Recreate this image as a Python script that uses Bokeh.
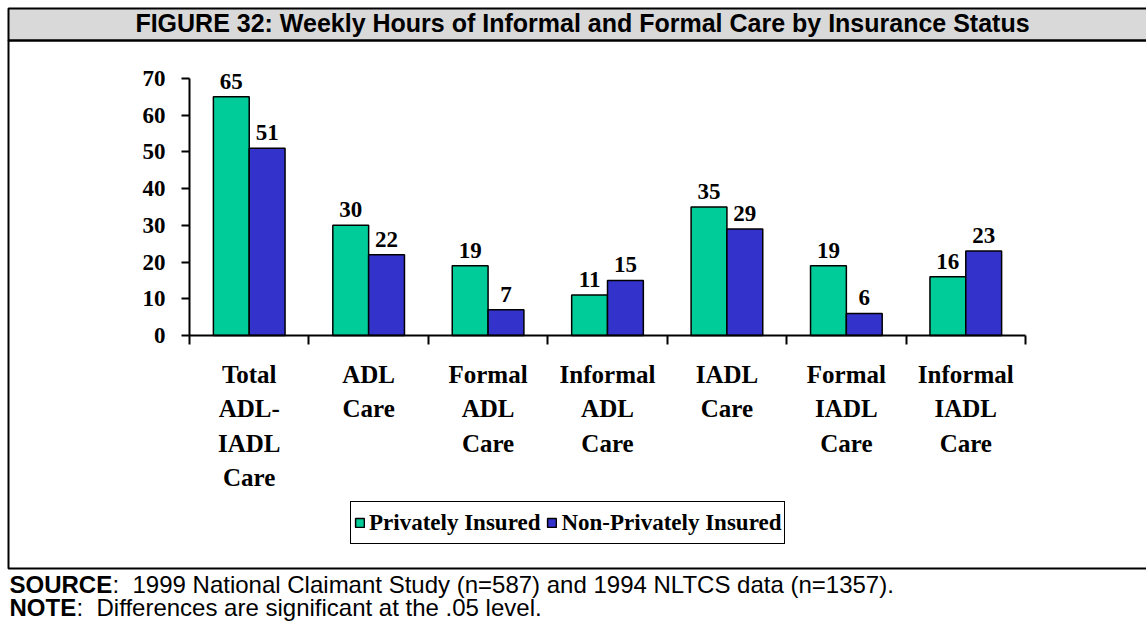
from bokeh.plotting import figure
from bokeh.models import (Range1d, FixedTicker, ColumnDataSource, Label,
                          BoxAnnotation, Legend, LegendItem)
from bokeh.transform import dodge
from bokeh.core.properties import value
from bokeh.embed import file_html
from bokeh.resources import INLINE

# ---------------- data ----------------
categories = ["Total\nADL-\nIADL\nCare", "ADL\nCare", "Formal\nADL\nCare",
              "Informal\nADL\nCare", "IADL\nCare", "Formal\nIADL\nCare",
              "Informal\nIADL\nCare"]
privately_insured = [65, 30, 19, 11, 35, 19, 16]
non_privately_insured = [51, 22, 7, 15, 29, 6, 23]
series_names = ["Privately Insured", "Non-Privately Insured"]
y_ticks = [0, 10, 20, 30, 40, 50, 60, 70]

title_text = "FIGURE 32: Weekly Hours of Informal and Formal Care by Insurance Status"
source_head = "SOURCE"
source_text = ":\u00a0\u00a01999 National Claimant Study (n=587) and 1994 NLTCS data (n=1357)."
note_head = "NOTE"
note_text = ":\u00a0\u00a0Differences are significant at the .05 level."

# ---------------- styles / layout ----------------
GREEN = "#00CC99"
BLUE = "#3333CC"
SERIF = "Liberation Serif"
SANS = "Liberation Sans"
W, H = 1146, 628
AX_L, AX_R, AX_B, AX_T = 189, 1025, 335, 78   # pixel box of the chart axes
N = len(categories)
YMAX = y_ticks[-1]
PXX = (AX_R - AX_L) / N
PXY = (AX_B - AX_T) / YMAX

def dx(px):  # page pixel -> data x
    return (px - AX_L) / PXX

def dy(py):  # page pixel -> data y
    return (AX_B - py) / PXY

centers = [i + 0.5 for i in range(N)]
source = ColumnDataSource(dict(
    x=centers,
    priv=privately_insured,
    nonpriv=non_privately_insured,
    priv_lbl=[str(v) for v in privately_insured],
    nonpriv_lbl=[str(v) for v in non_privately_insured],
))

p = figure(width=W, height=H, output_backend="svg", toolbar_location=None,
           x_range=Range1d(dx(0), dx(W)), y_range=Range1d(dy(H), dy(0)),
           min_border=0)
p.outline_line_color = None
p.xgrid.visible = False
p.ygrid.visible = False
p.background_fill_color = "white"
p.border_fill_color = "white"

r1 = p.vbar(x=dodge("x", -0.15, range=p.x_range), top="priv", width=0.3,
            source=source, fill_color=GREEN, line_color="black", line_width=1.5)
r2 = p.vbar(x=dodge("x", 0.15, range=p.x_range), top="nonpriv", width=0.3,
            source=source, fill_color=BLUE, line_color="black", line_width=1.5)

lbl_kw = dict(text_font=value(SERIF), text_font_style="bold",
              text_font_size="23px", text_align="center",
              text_baseline="bottom", y_offset=-8, text_color="black")
p.text(x=dodge("x", -0.15, range=p.x_range), y="priv", text="priv_lbl",
       source=source, **lbl_kw)
p.text(x=dodge("x", 0.15, range=p.x_range), y="nonpriv", text="nonpriv_lbl",
       source=source, **lbl_kw)

# y axis (fixed at x = 0)
ya = p.yaxis[0]
ya.fixed_location = 0
ya.ticker = FixedTicker(ticks=y_ticks)
ya.bounds = (0, YMAX)
ya.axis_line_width = 2
ya.major_tick_line_width = 2
ya.major_tick_in = 0
ya.major_tick_out = 8
ya.minor_tick_line_color = None
ya.major_label_text_font = SERIF
ya.major_label_text_font_style = "bold"
ya.major_label_text_font_size = "23px"
ya.major_label_text_color = "black"
ya.major_label_standoff = 16

# x axis (fixed at y = 0)
xa = p.xaxis[0]
xa.fixed_location = 0
xa.ticker = FixedTicker(ticks=centers, minor_ticks=list(range(N + 1)))
xa.bounds = (0, N)
xa.axis_line_width = 2
xa.major_tick_in = 0
xa.major_tick_out = 0
xa.minor_tick_in = 0
xa.minor_tick_out = 9
xa.minor_tick_line_width = 2
xa.major_label_overrides = {c: n for c, n in zip(centers, categories)}
xa.major_label_text_font = SERIF
xa.major_label_text_font_style = "bold"
xa.major_label_text_font_size = "25px"
xa.major_label_text_color = "black"
xa.major_label_text_line_height = 1.28
xa.major_label_standoff = 16

# legend
legend = Legend(items=[LegendItem(label=series_names[0], renderers=[r1]),
                       LegendItem(label=series_names[1], renderers=[r2])],
                orientation="horizontal", location=(350, H - 544),
                label_text_font=SERIF, label_text_font_style="bold",
                label_text_font_size="23px", label_text_color="black",
                glyph_width=11, glyph_height=11,
                label_height=35, label_standoff=4, spacing=6, padding=3,
                margin=0, border_line_color="black", border_line_width=1.5,
                border_line_alpha=1,
                background_fill_color="white", background_fill_alpha=1)
p.add_layout(legend, "center")

# title band and frame lines
p.add_layout(BoxAnnotation(left=dx(8), right=dx(W + 20), top=dy(8), bottom=dy(40),
                           fill_color="#D9D9D9", fill_alpha=1,
                           line_color="black", line_alpha=1, line_width=2,
                           level="underlay"))
p.add_layout(BoxAnnotation(left=dx(8), right=dx(W + 20), top=dy(40), bottom=dy(568),
                           fill_alpha=0, line_color="black", line_alpha=1,
                           line_width=2))

p.add_layout(Label(x=dx(582), y=dy(22), text=title_text, text_font=SANS,
                   text_font_style="bold", text_font_size="25px",
                   text_align="center", text_baseline="alphabetic",
                   text_color="black"))

foot_kw = dict(text_font=SANS, text_font_size="24px",
               text_baseline="alphabetic", text_color="black")
p.add_layout(Label(x=dx(9), y=dy(584), text=source_head,
                   text_font_style="bold", **foot_kw))
p.add_layout(Label(x=dx(9 + 103), y=dy(584), text=source_text, **foot_kw))
p.add_layout(Label(x=dx(9), y=dy(607), text=note_head,
                   text_font_style="bold", **foot_kw))
p.add_layout(Label(x=dx(9 + 67), y=dy(607), text=note_text, **foot_kw))

open("out.html", "w").write(file_html(p, INLINE))
